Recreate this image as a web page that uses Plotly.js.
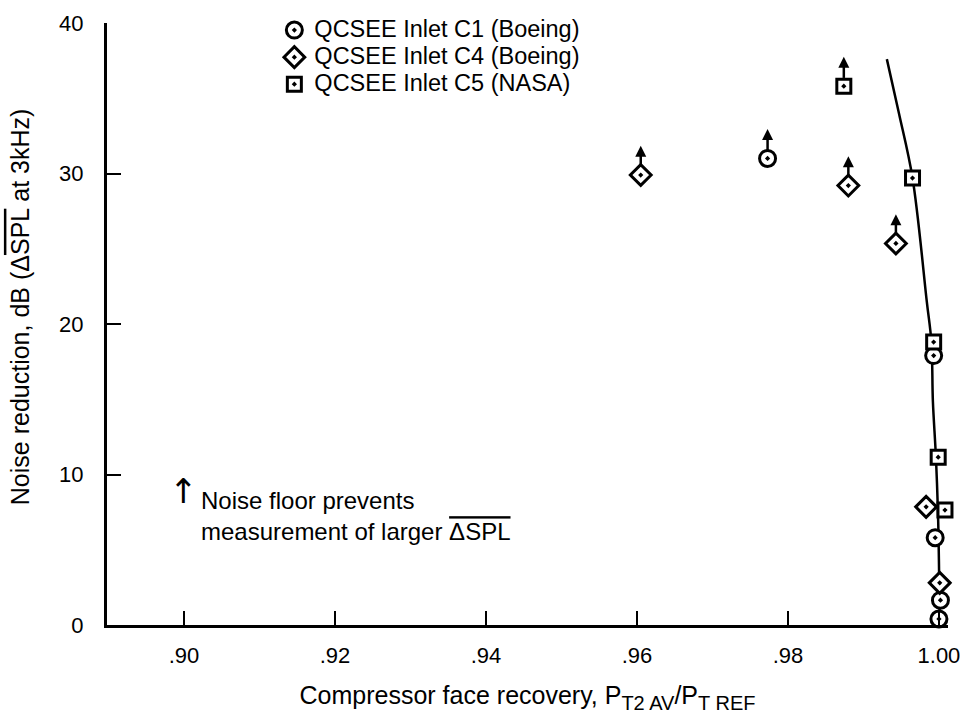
<!DOCTYPE html>
<html><head><meta charset="utf-8">
<script src="https://cdn.plot.ly/plotly-3.0.1.min.js"></script>
<style>html,body{margin:0;padding:0;background:#fff}</style>
</head><body>
<div id="chart" style="width:965px;height:727px"></div>
<script>
// Data
const seriesNames = ["QCSEE Inlet C1 (Boeing)", "QCSEE Inlet C4 (Boeing)", "QCSEE Inlet C5 (NASA)"];
const c1X = [0.9773, 0.9993, 0.9995, 1.0002, 1.0000];
const c1Y = [31.0, 17.9, 5.8, 1.65, 0.4];
const c1Floor = [true, false, false, false, false];
const c4X = [0.9605, 0.9880, 0.9943, 0.9983, 1.0001];
const c4Y = [29.9, 29.2, 25.35, 7.85, 2.8];
const c4Floor = [true, true, true, false, false];
const c5X = [0.9874, 0.9965, 0.9993, 0.9999, 1.0008];
const c5Y = [35.8, 29.7, 18.8, 11.15, 7.64];
const c5Floor = [true, false, false, false, false];
const curveX = [0.9931, 0.9947, 0.9965, 0.9984, 0.9990, 0.9992, 0.9996, 0.9999, 1.0001];
const curveY = [37.6, 34.0, 29.7, 21.45, 18.8, 14.85, 11.15, 6.9, 0];
const xTickVals = [0.90, 0.92, 0.94, 0.96, 0.98, 1.00];
const xTickText = [".90", ".92", ".94", ".96", ".98", "1.00"];
const yTickVals = [0, 10, 20, 30, 40];
const yTickText = ["0", "10", "20", "30", "40"];

const FONT = "Liberation Sans, Arial, sans-serif";
const markerLine = {color: "#000", width: 3};

// noise-floor arrows above flagged points (offsets in dB units)
const shaftX = [], shaftY = [], headX = [], headY = [];
function addFloor(xs, ys, flags) {
  xs.forEach((x, i) => {
    if (!flags[i]) return;
    shaftX.push(x, x, null); shaftY.push(ys[i] + 0.55, ys[i] + 1.45, null);
    headX.push(x); headY.push(ys[i] + 1.95);
  });
}
addFloor(c1X, c1Y, c1Floor);
addFloor(c4X, c4Y, c4Floor);
addFloor(c5X, c5Y, c5Floor);

const big = s => "<span style='font-size:23.5px'>" + s + "</span>";

const traces = [
  {x: curveX, y: curveY, mode: "lines", line: {color: "#000", width: 2.5, shape: "spline"},
   showlegend: false, hoverinfo: "skip", cliponaxis: false},
  {x: shaftX, y: shaftY, mode: "lines", line: {color: "#000", width: 2.5},
   showlegend: false, hoverinfo: "skip", cliponaxis: false},
  {x: headX, y: headY, mode: "markers", showlegend: false, hoverinfo: "skip", cliponaxis: false,
   marker: {symbol: "arrow-up", size: 11, color: "#000", line: {width: 0}}},
  {x: c1X, y: c1Y, name: big(seriesNames[0]), mode: "markers", cliponaxis: false,
   marker: {symbol: "circle-dot", size: 16, color: "#fff", line: markerLine}},
  {x: c4X, y: c4Y, name: big(seriesNames[1]), mode: "markers", cliponaxis: false,
   marker: {symbol: "diamond-dot", size: 16, color: "#fff", line: markerLine}},
  {x: c5X, y: c5Y, name: big(seriesNames[2]), mode: "markers", cliponaxis: false,
   marker: {symbol: "square-dot", size: 14, color: "#fff", line: markerLine}}
];

const annotations = [
  {xref: "paper", yref: "paper", x: 0.0904, y: 0.222, xanchor: "center", yanchor: "middle",
   showarrow: false, text: "↑", font: {family: "DejaVu Sans", size: 34, color: "#000"}},
  {xref: "paper", yref: "paper", x: 0.1094, y: 0.1815, xanchor: "left", yanchor: "middle",
   align: "left", showarrow: false, font: {family: FONT, size: 24, color: "#000"},
   text: "Noise floor prevents<br>measurement of larger <span style='text-decoration:overline'>ΔSPL</span>"},
  {xref: "paper", yref: "paper", x: -0.1034, y: 0.528, xanchor: "center", yanchor: "middle",
   textangle: -90, showarrow: false, font: {family: FONT, size: 25, color: "#000"},
   text: "Noise reduction, dB (Δ<span style='text-decoration:overline'>SPL</span> at 3kHz)"}
];

const layout = {
  width: 965, height: 727,
  margin: {l: 107, r: 17, t: 19, b: 102},
  paper_bgcolor: "#fff", plot_bgcolor: "#fff",
  font: {family: FONT, color: "#000"},
  showlegend: true,
  legend: {x: 0.199, y: 1.019, xanchor: "left", yanchor: "top", bgcolor: "rgba(0,0,0,0)",
    font: {family: FONT, size: 18.5, color: "#000"}, tracegroupgap: 0},
  xaxis: {range: [0.8898, 1.0012], tickvals: xTickVals, ticktext: xTickText,
    ticks: "inside", ticklen: 14, tickwidth: 2, tickcolor: "#000",
    showline: true, linewidth: 3, linecolor: "#000", showgrid: false, zeroline: false,
    tickfont: {family: FONT, size: 22, color: "#000"}, ticklabelstandoff: 9,
    title: {text: "Compressor face recovery, P<sub><span style='font-size:20px'>T2 AV</span></sub>/P<sub><span style='font-size:20px'>T REF</span></sub>",
      font: {family: FONT, size: 25, color: "#000"}, standoff: 20}},
  yaxis: {range: [0, 40], tickvals: yTickVals, ticktext: yTickText,
    ticks: "inside", ticklen: 14, tickwidth: 2, tickcolor: "#000",
    showline: true, linewidth: 3, linecolor: "#000", showgrid: false, zeroline: false,
    tickfont: {family: FONT, size: 22, color: "#000"}, ticklabelstandoff: 16,
    title: {text: ""}},
  annotations: annotations
};

Plotly.newPlot("chart", traces, layout, {displayModeBar: false, staticPlot: true});
</script>
</body></html>
